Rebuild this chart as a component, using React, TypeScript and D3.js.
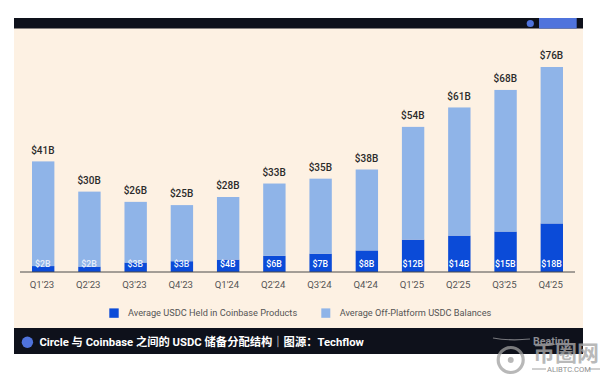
import React from "react";
import * as d3 from "d3";

const quarters = ["Q1'23","Q2'23","Q3'23","Q4'23","Q1'24","Q2'24","Q3'24","Q4'24","Q1'25","Q2'25","Q3'25","Q4'25"];
const held = [2,2,3,3,4,6,7,8,12,14,15,18];
const totals = [41,30,26,25,28,33,35,38,54,61,68,76];
const heldHeights = [2.2,2,3.5,4,4.6,6,6.8,8,12,13.5,15,18];
const barTotals = [41,29.8,26,24.8,27.8,32.8,34.6,38,53.8,61,67.5,76];
const offPlatform = barTotals.map((t, i) => t - heldHeights[i]);

const W = 600, H = 375;
const font = "Roboto, 'Noto Sans', sans-serif";
const cjk = "Roboto, 'Noto Sans CJK SC', sans-serif";

export default function App() {
  const x = d3.scaleBand<string>().domain(quarters).range([20.44, 574.56]).paddingInner(0.516).paddingOuter(0.25);
  const y = d3.scaleLinear().domain([0, 76]).range([272, 67]);
  const stack = d3.stack<number>().keys(["held", "off"]).value((i, k) => (k === "held" ? heldHeights[i] : offPlatform[i]));
  const series = stack(d3.range(quarters.length));
  const colors = ["#0b4bd8", "#8fb4e8"];
  return (
    <svg width={W} height={H} viewBox={`0 0 ${W} ${H}`} style={{ position: "fixed", left: 0, top: 0, background: "#fff", display: "block" }}>
      <rect x={14} y={28} width={569} height={300} fill="#fdf1e3" />
      <rect x={14} y={18} width={569} height={10.5} fill="#0e111b" />
      <circle cx={530.3} cy={23.5} r={3.6} fill="#4f73dc" />
      <rect x={539} y={18} width={37.7} height={10.5} fill="#4f73dc" />

      {series.map((s, si) => (
        <g key={si} fill={colors[si]}>
          {s.map((d, i) => (
            <rect key={i} x={x(quarters[i])} width={x.bandwidth()} y={y(d[1])} height={y(d[0]) - y(d[1])} />
          ))}
        </g>
      ))}
      <line x1={20} x2={575} y1={272} y2={272} stroke="#4a4a4a" strokeWidth={1} />
      {quarters.map((q, i) => {
        const cx = x(q)! + x.bandwidth() / 2;
        return (
          <g key={q} fontFamily={font} textAnchor="middle">
            <text x={cx - 0.3} y={y(barTotals[i]) - 7.7} fontSize={10} fontWeight={500} fill="#2b2b2b">{`$${totals[i]}B`}</text>
            <text x={cx - 0.3} y={267} fontSize={8.8} fontWeight={500} fill={i < 4 ? "#e6eefb" : "#ffffff"}>{`$${held[i]}B`}</text>
            <text x={cx - 1.2} y={288} fontSize={9.6} fill="#555">{q}</text>
          </g>
        );
      })}

      <rect x={109.3} y={308.4} width={9.4} height={9.4} fill={colors[0]} />
      <text x={128} y={316} fontFamily={font} fontSize={9.2} fill="#555">Average USDC Held in Coinbase Products</text>
      <rect x={321.3} y={308.4} width={9} height={9.4} fill={colors[1]} />
      <text x={339.7} y={316} fontFamily={font} fontSize={9.2} fill="#555">Average Off-Platform USDC Balances</text>

      <rect x={14} y={328} width={569} height={26} fill="#0e111b" />
      <circle cx={27.4} cy={342.3} r={5.7} fill="#4f73dc" />
      <text x={39.4} y={346} fontFamily={cjk} fontSize={11.3} fontWeight={700} fill="#fff">Circle 与 Coinbase 之间的 USDC 储备分配结构｜图源：Techflow</text>

      <g>
        <path d="M493 338 Q510 341 530 339" fill="none" stroke="#77787d" strokeWidth={1.2} />
        <circle cx={510.7} cy={360} r={12.5} fill="none" stroke="#a0a0a0" strokeWidth={3.2} opacity={0.75} />
        <circle cx={510.7} cy={360} r={3} fill="#9a9a9a" opacity={0.7} />
        <text x={533} y={361} fontFamily="'Noto Sans CJK SC', sans-serif" fontSize={22} fontWeight={700} fill="#a8a8a8" opacity={0.8}>币圈网</text>
        <text x={533} y={345} fontFamily={font} fontSize={10.6} fontWeight={700} fill="#8d8e93">Beating</text>
        <line x1={532} x2={546} y1={369} y2={369} stroke="#a0a0a0" strokeWidth={1} />
        <line x1={589} x2={600} y1={369} y2={369} stroke="#a0a0a0" strokeWidth={1} />
        <text x={547} y={372} fontFamily={font} fontSize={7.6} fill="#8f8f8f">ALIBTC.COM</text>
      </g>
    </svg>
  );
}
